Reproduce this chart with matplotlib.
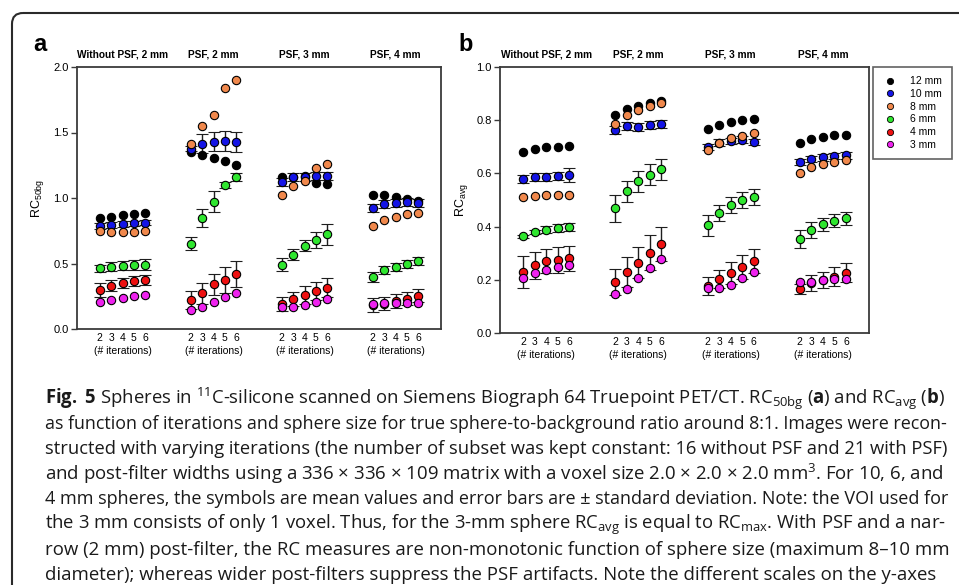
import matplotlib
matplotlib.use('Agg')
import matplotlib.pyplot as plt
from matplotlib import font_manager
from matplotlib.patches import FancyBboxPatch

# layout of the x axis: 4 reconstructions x 5 iteration counts
groups = ['Without PSF, 2 mm', 'PSF, 2 mm', 'PSF, 3 mm', 'PSF, 4 mm']
iterations = [2, 3, 4, 5, 6]
sizes = ['12 mm', '10 mm', '8 mm', '6 mm', '4 mm', '3 mm']
colors = ['#000000', '#1414e6', '#f0884c', '#2fe62f', '#ee1111', '#ee22ee']

# panel a : RC50bg  (values listed group by group, iterations 2..6)
rc50_12 = [0.845, 0.858, 0.868, 0.878, 0.883, 1.350, 1.325, 1.305, 1.284, 1.254,
           1.163, 1.160, 1.170, 1.112, 1.109, 1.023, 1.020, 1.005, 0.990, 0.980]
rc50_10 = [0.787, 0.794, 0.802, 0.807, 0.812, 1.376, 1.416, 1.431, 1.437, 1.426,
           1.122, 1.158, 1.163, 1.170, 1.170, 0.921, 0.954, 0.962, 0.969, 0.964]
rc50_8 = [0.751, 0.744, 0.739, 0.744, 0.746, 1.411, 1.546, 1.635, 1.840, 1.898,
          1.020, 1.094, 1.132, 1.232, 1.257, 0.789, 0.835, 0.855, 0.878, 0.888]
rc50_6 = [0.462, 0.475, 0.482, 0.490, 0.492, 0.652, 0.845, 0.972, 1.099, 1.162,
          0.491, 0.567, 0.636, 0.677, 0.725, 0.397, 0.448, 0.473, 0.496, 0.517]
rc50_4 = [0.297, 0.332, 0.353, 0.365, 0.373, 0.223, 0.272, 0.340, 0.373, 0.421,
          0.191, 0.229, 0.260, 0.290, 0.316, 0.183, 0.193, 0.214, 0.232, 0.254]
rc50_3 = [0.206, 0.223, 0.236, 0.249, 0.256, 0.145, 0.168, 0.208, 0.246, 0.277,
          0.170, 0.170, 0.181, 0.204, 0.226, 0.188, 0.196, 0.198, 0.201, 0.201]
sd50_10 = [0.02, 0.02, 0.02, 0.02, 0.02, 0.02, 0.075, 0.07, 0.075, 0.075,
           0.03, 0.03, 0.03, 0.03, 0.03, 0.03, 0.03, 0.03, 0.03, 0.03]
sd50_6 = [0.03, 0.035, 0.035, 0.04, 0.04, 0.05, 0.07, 0.08, 0.02, 0.03,
          0.05, 0.04, 0.04, 0.06, 0.08, 0.04, 0.03, 0.03, 0.03, 0.03]
sd50_4 = [0.055, 0.04, 0.04, 0.04, 0.04, 0.07, 0.08, 0.08, 0.1, 0.1,
          0.05, 0.05, 0.07, 0.07, 0.07, 0.05, 0.05, 0.05, 0.05, 0.05]

# panel b : RCavg
avg_12 = [0.680, 0.692, 0.698, 0.701, 0.704, 0.820, 0.843, 0.855, 0.866, 0.873,
          0.766, 0.783, 0.793, 0.801, 0.805, 0.713, 0.729, 0.738, 0.743, 0.744]
avg_10 = [0.578, 0.585, 0.588, 0.589, 0.594, 0.764, 0.780, 0.776, 0.783, 0.786,
          0.700, 0.716, 0.721, 0.727, 0.719, 0.642, 0.654, 0.660, 0.665, 0.668]
avg_8 = [0.513, 0.516, 0.518, 0.518, 0.518, 0.784, 0.819, 0.839, 0.853, 0.863,
         0.688, 0.716, 0.732, 0.742, 0.751, 0.603, 0.624, 0.637, 0.644, 0.652]
avg_6 = [0.364, 0.379, 0.388, 0.393, 0.397, 0.469, 0.533, 0.570, 0.595, 0.615,
         0.405, 0.452, 0.481, 0.500, 0.513, 0.353, 0.388, 0.409, 0.422, 0.431]
avg_4 = [0.230, 0.254, 0.269, 0.274, 0.281, 0.192, 0.229, 0.265, 0.302, 0.335,
         0.177, 0.203, 0.226, 0.249, 0.271, 0.165, 0.187, 0.200, 0.212, 0.227]
avg_3 = [0.205, 0.224, 0.236, 0.247, 0.255, 0.145, 0.167, 0.207, 0.246, 0.280,
         0.170, 0.170, 0.180, 0.206, 0.228, 0.193, 0.193, 0.199, 0.202, 0.202]
sdavg_10 = [0.015, 0.015, 0.015, 0.015, 0.025, 0.015, 0.015, 0.015, 0.015, 0.015,
            0.012, 0.012, 0.012, 0.012, 0.012, 0.012, 0.012, 0.012, 0.012, 0.012]
sdavg_6 = [0.005, 0.008, 0.013, 0.015, 0.015, 0.05, 0.04, 0.04, 0.04, 0.04,
           0.04, 0.03, 0.03, 0.03, 0.03, 0.035, 0.03, 0.025, 0.025, 0.025]
sdavg_4 = [0.06, 0.05, 0.045, 0.048, 0.047, 0.05, 0.055, 0.06, 0.065, 0.065,
           0.035, 0.035, 0.04, 0.045, 0.045, 0.02, 0.03, 0.03, 0.035, 0.035]

caption = [
    r"$\mathbf{Fig.}$ $\mathbf{5}$ Spheres in $\mathregular{^{11}}$C-silicone scanned on Siemens Biograph 64 Truepoint PET/CT. "
    r"RC$\mathregular{_{50bg}}$ ($\mathbf{a}$) and RC$\mathregular{_{avg}}$ ($\mathbf{b}$)",
    "as function of iterations and sphere size for true sphere-to-background ratio around 8:1. Images were recon-",
    "structed with varying iterations (the number of subset was kept constant: 16 without PSF and 21 with PSF)",
    r"and post-filter widths using a 336 × 336 × 109 matrix with a voxel size 2.0 × 2.0 × 2.0 mm$\mathregular{^3}$. For 10, 6, and",
    "4 mm spheres, the symbols are mean values and error bars are ± standard deviation. Note: the VOI used for",
    r"the 3 mm consists of only 1 voxel. Thus, for the 3-mm sphere RC$\mathregular{_{avg}}$ is equal to RC$\mathregular{_{max}}$. With PSF and a nar-",
    "row (2 mm) post-filter, the RC measures are non-monotonic function of sphere size (maximum 8–10 mm",
    "diameter); whereas wider post-filters suppress the PSF artifacts. Note the different scales on the y-axes",
]

have = {f.name for f in font_manager.fontManager.ttflist}
cap_font = next((n for n in ['Liberation Sans Narrow', 'DejaVu Sans Condensed', 'Open Sans'] if n in have), 'DejaVu Sans')
plt.rcParams['font.family'] = ['Liberation Sans', 'DejaVu Sans']
plt.rcParams['mathtext.fontset'] = 'custom'
plt.rcParams['mathtext.rm'] = cap_font
plt.rcParams['mathtext.bf'] = cap_font + ':bold'

W, H = 959, 585
fig = plt.figure(figsize=(W / 100, H / 100), dpi=100)

x = [g * 8 + it for g in range(len(groups)) for it in iterations]
ticklab = [str(it) for g in groups for it in iterations]
spine_c = '#3a3a3a'


def panel(ax, series, errs, ylim, yticks, ylab):
    for vals, err, c, lab in zip(series, errs, colors, sizes):
        ax.errorbar(x, vals, yerr=err, fmt='o', ms=6, mfc=c, mec='k', mew=0.8,
                    ecolor='#1e1e1e', elinewidth=1, capsize=4.5, capthick=1, label=lab)
    ax.set_xlim(0, 32)
    ax.set_ylim(*ylim)
    ax.set_yticks(yticks)
    ax.set_yticklabels(['%.1f' % v for v in yticks])
    ax.set_xticks(x)
    ax.set_xticklabels(ticklab)
    ax.tick_params(axis='x', length=0, pad=3, labelsize=7.5)
    ax.tick_params(axis='y', length=4, width=1, color=spine_c, labelsize=8, pad=2)
    for s in ax.spines.values():
        s.set_color(spine_c)
        s.set_linewidth(1.3)
    for g, name in enumerate(groups):
        c = g * 8 + 4
        ax.text(c, 1.046, name, transform=ax.get_xaxis_transform(), ha='center',
                va='center', fontsize=7.3, fontweight='bold')
        ax.annotate('(# iterations)', xy=(c, 0), xycoords=('data', 'axes fraction'),
                    xytext=(0, -15.5), textcoords='offset points', ha='center',
                    va='center', fontsize=7.5)
    ax.set_ylabel(ylab, fontsize=9)
    ax.yaxis.label.set_va('center')


axa = fig.add_axes([77 / W, 1 - 329 / H, 364 / W, 262 / H])
panel(axa, [rc50_12, rc50_10, rc50_8, rc50_6, rc50_4, rc50_3],
      [None, sd50_10, None, sd50_6, sd50_4, None],
      (0, 2), [0, 0.5, 1.0, 1.5, 2.0], r'RC$\mathregular{_{50bg}}$')
axa.yaxis.set_label_coords((38 - 77) / 364, 0.5)

axb = fig.add_axes([500 / W, 1 - 333 / H, 369 / W, 266 / H])
panel(axb, [avg_12, avg_10, avg_8, avg_6, avg_4, avg_3],
      [None, sdavg_10, None, sdavg_6, sdavg_4, None],
      (0, 1), [0, 0.2, 0.4, 0.6, 0.8, 1.0], r'RC$\mathregular{_{avg}}$')
axb.yaxis.set_label_coords((462 - 500) / 369, 0.5)

handles = [plt.Line2D([], [], ls='none', marker='o', ms=4.5, mfc=c, mec='k', mew=0.6) for c in colors]
leg = axb.legend(handles, sizes, loc='upper left', bbox_to_anchor=(873 / W, 1 - 67 / H),
                 bbox_transform=fig.transFigure, fancybox=False, edgecolor=spine_c,
                 fontsize=7.5, borderpad=0.9, labelspacing=0.26, handlelength=1.5,
                 handletextpad=1.2, borderaxespad=0)
leg.get_frame().set_linewidth(1.2)

fig.text(40 / W, 1 - 51 / H, 'a', fontsize=17, fontweight='bold', ha='center', va='baseline')
fig.text(466 / W, 1 - 51 / H, 'b', fontsize=17, fontweight='bold', ha='center', va='baseline')

# page frame and caption in pixel coordinates
fax = fig.add_axes([0, 0, 1, 1], zorder=-1)
fax.set_xlim(0, W)
fax.set_ylim(H, 0)
fax.axis('off')
fax.add_patch(FancyBboxPatch((12, 13), 1100, 800, boxstyle='round,pad=0,rounding_size=11',
                             fill=False, ec='#2a2a2a', lw=1.5))

fig.canvas.draw()
rend = fig.canvas.get_renderer()
left, right = 45, 943
for i, line in enumerate(caption):
    t = fax.text(left, 399 + 25.1 * i, line, fontsize=13, family=cap_font, color='#1a1a1a',
                 va='center', ha='left')
    if i < len(caption) - 1:
        w = t.get_window_extent(rend).width
        t.set_fontsize(13 * (right - left) / w)
        last_size = t.get_fontsize()
    else:
        t.set_fontsize(last_size)

fig.savefig('out.png', dpi=100)
